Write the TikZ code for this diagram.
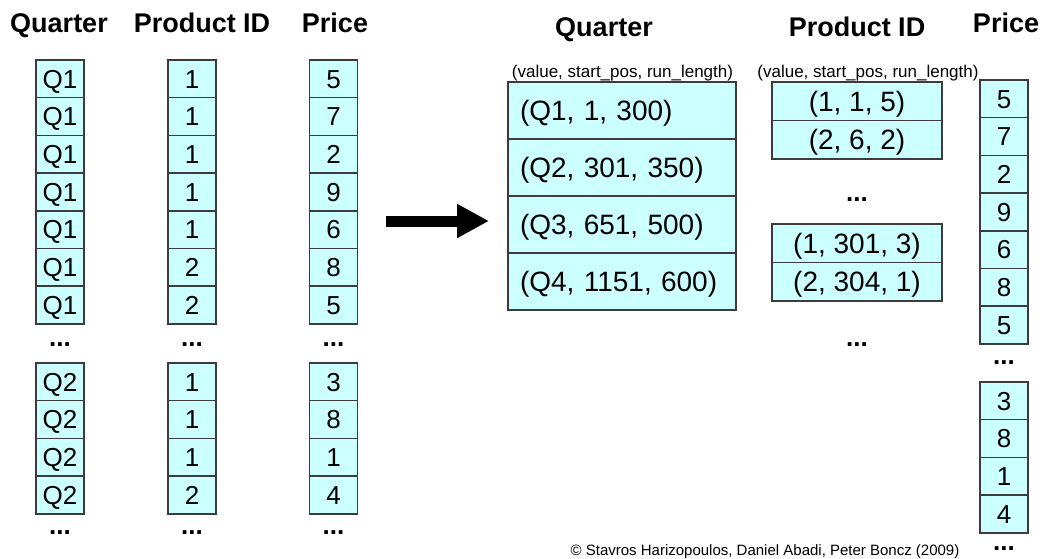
\documentclass[tikz,border=0pt]{standalone}
\usepackage{fontspec}
\setmainfont{Liberation Sans}
\usetikzlibrary{arrows.meta,positioning}
\definecolor{cellfill}{HTML}{CCFFFF}
\definecolor{cellline}{HTML}{3C3C3C}
\newcommand{\fs}[1]{\fontsize{#1}{#1}\selectfont}

\begin{document}
\begin{tikzpicture}[x=1pt,y=-1pt,
   colhead/.style={font=\bfseries\fs{27},anchor=base},
   cell/.style={draw=cellline,line width=1.5pt,fill=cellfill,inner sep=0pt,
                minimum width=48pt,minimum height=37.7pt,font=\fs{26},
                text height=18.6pt,text depth=0pt},
   rle/.style={cell,minimum width=228pt,minimum height=57pt,text width=204pt,
               align=left,font=\fs{28},text height=20pt},
   rlesm/.style={cell,minimum width=170pt,minimum height=38.5pt,font=\fs{28},
                 text height=20pt},
   fmt/.style={font=\fs{17},anchor=base},
   dots/.style={font=\bfseries\fs{26}},
   ar/.style={line width=11pt,-{Triangle[length=32pt,width=32pt]}}]
  \useasboundingbox (0,0) rectangle (1043,558);
  % uncompressed columns
  \node[colhead] (hq) at (59,32) {Quarter};
  \node[colhead] (hp) at (202,32) {Product ID};
  \node[colhead] (hr) at (335,32) {Price};
  \foreach \v [count=\i] in {Q1,Q1,Q1,Q1,Q1,Q1,Q1}
    \node[cell] (qa\i) at (60,41.15+37.7*\i) {\v};
  \foreach \v [count=\i] in {1,1,1,1,1,2,2}
    \node[cell] (pa\i) at (192,41.15+37.7*\i) {\v};
  \foreach \v [count=\i] in {5,7,2,9,6,8,5}
    \node[cell] (ra\i) at (333.5,41.15+37.7*\i) {\v};
  \foreach \v [count=\i] in {Q2,Q2,Q2,Q2}
    \node[cell] (qb\i) at (60,344.15+37.7*\i) {\v};
  \foreach \v [count=\i] in {1,1,1,2}
    \node[cell] (pb\i) at (192,344.15+37.7*\i) {\v};
  \foreach \v [count=\i] in {3,8,1,4}
    \node[cell] (rb\i) at (333.5,344.15+37.7*\i) {\v};
  \foreach \x/\n in {60/q,192/p,333.5/r} {
    \node[dots] (\n d1) at (\x,345) {...};
    \node[dots] (\n d2) at (\x,533) {...};
  }
  \coordinate (arrS) at (386,221);
  \coordinate (arrE) at (489,221);
  \draw[ar] (arrS) -- (arrE);
  % compressed columns
  \node[colhead] (cq) at (604,36) {Quarter};
  \node[colhead] (cp) at (857,36) {Product ID};
  \node[colhead] (cr) at (1006,32) {Price};
  \node[fmt] (fq) at (622.5,77) {(value, start\_pos, run\_length)};
  \node[fmt] (fp) at (868,77) {(value, start\_pos, run\_length)};
  \foreach \v [count=\i] in {(Q1\string, 1\string, 300),(Q2\string, 301\string, 350),
                             (Q3\string, 651\string, 500),(Q4\string, 1151\string, 600)}
    \node[rle] (rq\i) at (622,53.5+57*\i) {\v};
  \node[rlesm] (rp1) at (857,101.25) {(1, 1, 5)};
  \node[rlesm] (rp2) at (857,139.75) {(2, 6, 2)};
  \node[rlesm] (rp3) at (857,243.25) {(1, 301, 3)};
  \node[rlesm] (rp4) at (857,281.75) {(2, 304, 1)};
  \node[dots] (pd3) at (857,200) {...};
  \node[dots] (pd4) at (857,345) {...};
  \foreach \v [count=\i] in {5,7,2,9,6,8,5}
    \node[cell] (rc\i) at (1004,61.15+37.7*\i) {\v};
  \foreach \v [count=\i] in {3,8,1,4}
    \node[cell] (rd\i) at (1004,363.15+37.7*\i) {\v};
  \node[dots] (rd5) at (1004,363) {...};
  \node[dots] (rd6) at (1004,549) {...};
  \node[font=\fs{15}] (cpy) at (765,552)
    {\textcopyright{} Stavros Harizopoulos, Daniel Abadi, Peter Boncz (2009)};
\end{tikzpicture}
\end{document}
